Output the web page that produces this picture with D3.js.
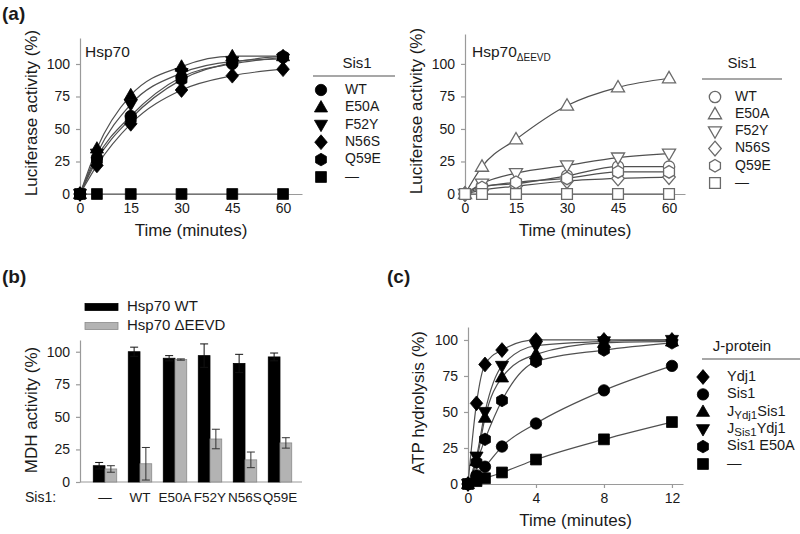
<!DOCTYPE html>
<html><head><meta charset="utf-8">
<script src="https://cdn.jsdelivr.net/npm/d3@7"></script>
<style>
body{margin:0;background:#fff}
text{font-family:"Liberation Sans",Arial,sans-serif;fill:#1a1a1a}
</style>
</head><body>
<svg id="chart" width="800" height="534"></svg>
<script>
// ---------- DATA ----------
const timesA = [0, 5, 15, 30, 45, 60];
const sis1Variants = ["WT", "E50A", "F52Y", "N56S", "Q59E", "—"];
const sis1Markers = ["circle", "triUp", "triDown", "diamond", "hexagon", "square"];
// Luciferase activity with Hsp70 WT
const lucHsp70WT = [0, 28, 60, 90, 100, 105];
const lucHsp70E50A = [0, 35, 76, 98, 106, 106];
const lucHsp70F52Y = [0, 31, 69, 93, 102, 104];
const lucHsp70N56S = [0, 22, 54, 80, 91, 96];
const lucHsp70Q59E = [0, 26, 58, 88, 101, 106];
const lucHsp70None = [0, 0, 0, 0, 0, 0];
// Luciferase activity with Hsp70 ΔEEVD
const lucDeltaWT = [0, 6, 8, 14, 21, 21];
const lucDeltaE50A = [0, 21, 42, 68, 82, 89];
const lucDeltaF52Y = [0, 8, 16, 22, 28, 31];
const lucDeltaN56S = [0, 3, 6, 10, 12, 13];
const lucDeltaQ59E = [0, 5, 9, 12, 17, 17];
const lucDeltaNone = [0, 0, 0, 0, 0, 0];
const xTicksA = [0, 15, 30, 45, 60];
const yTicksPct = [0, 25, 50, 75, 100];

// MDH activity (panel b)
const mdhCategories = ["—", "WT", "E50A", "F52Y", "N56S", "Q59E"];
const mdhHsp70WT = [12.5, 100, 95, 97, 91, 96];
const mdhHsp70WTErr = [2.5, 3.5, 2, 9, 7, 3];
const mdhHsp70Delta = [10, 14, 94, 33, 17, 30];
const mdhHsp70DeltaErr = [2.5, 12.5, 0.5, 7.5, 6, 4];
const mdhSeriesNames = ["Hsp70 WT", "Hsp70 ΔEEVD"];

// ATP hydrolysis (panel c)
const timesC = [0, 0.5, 1, 2, 4, 8, 12];
const jProteins = ["Ydj1", "Sis1", "JYdj1Sis1", "JSis1Ydj1", "Sis1 E50A", "—"];
const jMarkers = ["diamond", "circle", "triUp", "triDown", "hexagon", "square"];
const atpYdj1 = [0, 56, 83, 93, 100, 100, 100];
const atpSis1 = [0, 6, 12, 26, 42, 65, 82];
const atpJYdj1Sis1 = [0, 16, 46, 74, 90, 98, 99];
const atpJSis1Ydj1 = [0, 19, 50, 82, 96, 99, 100];
const atpSis1E50A = [0, 15, 31, 58, 85, 93, 98];
const atpNone = [0, 2, 4, 8, 17, 31, 43];
const xTicksC = [0, 4, 8, 12];

// ---------- HELPERS ----------
const svg = d3.select("#chart");
const LINE = "#505050", AXIS = "#9a9a9a";
const MR = 5.7;

function markerPath(type, r) {
  const p = d3.path();
  if (type === "circle") { p.arc(0, 0, r, 0, 2 * Math.PI); }
  else if (type === "triUp") { p.moveTo(0, -r * 1.2); p.lineTo(r * 1.15, r * 0.8); p.lineTo(-r * 1.15, r * 0.8); p.closePath(); }
  else if (type === "triDown") { p.moveTo(0, r * 1.2); p.lineTo(r * 1.15, -r * 0.8); p.lineTo(-r * 1.15, -r * 0.8); p.closePath(); }
  else if (type === "diamond") { p.moveTo(0, -r * 1.3); p.lineTo(r * 1.1, 0); p.lineTo(0, r * 1.3); p.lineTo(-r * 1.1, 0); p.closePath(); }
  else if (type === "hexagon") {
    for (let i = 0; i < 6; i++) {
      const a = -Math.PI / 2 + i * Math.PI / 3;
      const px = Math.cos(a) * r * 1.1, py = Math.sin(a) * r * 1.1;
      if (i === 0) p.moveTo(px, py); else p.lineTo(px, py);
    }
    p.closePath();
  }
  else if (type === "square") { p.rect(-r * 0.95, -r * 0.95, r * 1.9, r * 1.9); }
  return p.toString();
}

function styleAxis(g) {
  g.select(".domain").attr("stroke", AXIS).attr("stroke-width", 1.2);
  g.selectAll(".tick line").attr("stroke", AXIS).attr("stroke-width", 1.2);
  g.selectAll(".tick text").style("font-family", '"Liberation Sans",Arial,sans-serif')
    .style("font-size", "14px").attr("fill", "#222");
}

function addMarker(g, type, x, y, r, filled) {
  g.append("path").attr("d", markerPath(type, r))
    .attr("transform", `translate(${x},${y})`)
    .attr("fill", filled ? "#000" : "#fff")
    .attr("stroke", filled ? "#000" : "#6a6a6a")
    .attr("stroke-width", filled ? 0.8 : 1.3);
}

function linePanel(cfg) {
  const x = d3.scaleLinear().domain(cfg.xDomain).range([cfg.left, cfg.right]);
  const y = d3.scaleLinear().domain(cfg.yDomain).range([cfg.bottom, cfg.top]);
  const g = svg.append("g");
  g.append("g").attr("transform", `translate(0,${cfg.bottom})`)
    .call(d3.axisBottom(x).tickValues(cfg.xTicks).tickSize(4).tickSizeOuter(0).tickPadding(5))
    .call(styleAxis);
  g.append("g").attr("transform", `translate(${cfg.left},0)`)
    .call(d3.axisLeft(y).tickValues(yTicksPct).tickSize(4).tickSizeOuter(0).tickPadding(6))
    .call(styleAxis);
  const line = d3.line().x((d, i) => x(cfg.times[i])).y(d => y(d)).curve(d3.curveMonotoneX);
  cfg.series.forEach(s => {
    g.append("path").attr("d", line(s)).attr("fill", "none")
      .attr("stroke", LINE).attr("stroke-width", 1.2);
  });
  cfg.series.forEach((s, si) => {
    s.forEach((v, i) => addMarker(g, cfg.markers[si], x(cfg.times[i]), y(v), MR, cfg.filled));
  });
  g.append("text").attr("x", (cfg.left + cfg.right) / 2).attr("y", cfg.bottom + 42)
    .attr("text-anchor", "middle").style("font-size", "17px").text("Time (minutes)");
  g.append("text").attr("transform", `translate(${cfg.yLabelX},${(cfg.top + cfg.bottom) / 2 - 3}) rotate(-90)`)
    .attr("text-anchor", "middle").attr("dominant-baseline", "middle")
    .style("font-size", "17px").text(cfg.yLabel);
  return { x, y, g };
}

function legend(cfg) {
  const g = svg.append("g");
  g.append("text").attr("x", cfg.titleX).attr("y", cfg.titleY).attr("text-anchor", "middle")
    .attr("dominant-baseline", "middle").style("font-size", "15px").text(cfg.title);
  g.append("line").attr("x1", cfg.lineX1).attr("x2", cfg.lineX2).attr("y1", cfg.lineY).attr("y2", cfg.lineY)
    .attr("stroke", LINE).attr("stroke-width", 1.2);
  cfg.labels.forEach((lab, i) => {
    const yy = cfg.rowY0 + i * cfg.rowStep;
    addMarker(g, cfg.markers[i], cfg.markerX, yy, MR, cfg.filled);
    const t = g.append("text").attr("x", cfg.textX).attr("y", yy).attr("dominant-baseline", "middle")
      .style("font-size", cfg.fontSize + "px");
    const m = /^J(Ydj1|Sis1)(.*)$/.exec(lab);
    if (m) {
      t.append("tspan").text("J");
      t.append("tspan").attr("dy", 4).style("font-size", (cfg.fontSize - 3) + "px").text(m[1]);
      t.append("tspan").attr("dy", -4).text(m[2]);
    } else {
      t.text(lab);
    }
  });
}

// ---------- PANEL (a) LEFT ----------
linePanel({
  left: 80, right: 302, top: 38, bottom: 194,
  xDomain: [0, 65.6], yDomain: [0, 120], xTicks: xTicksA, times: timesA,
  series: [lucHsp70WT, lucHsp70E50A, lucHsp70F52Y, lucHsp70N56S, lucHsp70Q59E, lucHsp70None],
  markers: sis1Markers, filled: true,
  yLabel: "Luciferase activity (%)", yLabelX: 33
});
svg.append("text").attr("x", 85).attr("y", 53).attr("dominant-baseline", "middle")
  .style("font-size", "15.5px").text("Hsp70");
legend({
  title: "Sis1", titleX: 357, titleY: 64, lineX1: 313, lineX2: 395, lineY: 76,
  labels: sis1Variants, markers: sis1Markers, filled: true,
  markerX: 321, textX: 345, rowY0: 90, rowStep: 17.4, fontSize: 14
});

// ---------- PANEL (a) RIGHT ----------
linePanel({
  left: 465, right: 685, top: 34, bottom: 194,
  xDomain: [0, 64.7], yDomain: [0, 123], xTicks: xTicksA, times: timesA,
  series: [lucDeltaWT, lucDeltaE50A, lucDeltaF52Y, lucDeltaN56S, lucDeltaQ59E, lucDeltaNone],
  markers: sis1Markers, filled: false,
  yLabel: "Luciferase activity (%)", yLabelX: 418
});
{
  const t = svg.append("text").attr("x", 472).attr("y", 53).attr("dominant-baseline", "middle")
    .style("font-size", "15.5px");
  t.append("tspan").text("Hsp70");
  t.append("tspan").attr("dy", 5).style("font-size", "10px").text("ΔEEVD");
}
legend({
  title: "Sis1", titleX: 742, titleY: 64, lineX1: 702, lineX2: 782, lineY: 79,
  labels: sis1Variants, markers: sis1Markers, filled: false,
  markerX: 715, textX: 735, rowY0: 97, rowStep: 17.2, fontSize: 14
});

// ---------- PANEL (b) ----------
{
  const g = svg.append("g");
  const x0 = d3.scaleBand().domain(mdhCategories).range([87.5, 297.5]).paddingInner(0.33).paddingOuter(0.165);
  const x1 = d3.scaleBand().domain([0, 1]).range([0, x0.bandwidth()]);
  const y = d3.scaleLinear().domain([0, 109]).range([482, 340]);
  g.append("g").attr("transform", "translate(80,0)")
    .call(d3.axisLeft(y).tickValues(yTicksPct).tickSize(4).tickSizeOuter(0).tickPadding(6))
    .call(styleAxis);
  const xa = g.append("g").attr("transform", "translate(0,482)")
    .call(d3.axisBottom(x0).tickSize(0).tickPadding(10));
  xa.select(".domain").attr("d", "M80,0H302");
  xa.call(styleAxis);
  xa.selectAll(".tick text").style("font-size", "13.5px");
  const sets = [[mdhHsp70WT, mdhHsp70WTErr, "#000", "#000", "#111"], [mdhHsp70Delta, mdhHsp70DeltaErr, "#b3b3b3", "#8a8a8a", "#333"]];
  sets.forEach(([vals, errs, fill, stroke, ec], si) => {
    mdhCategories.forEach((c, i) => {
      const bx = x0(c) + x1(si), bw = x1.bandwidth();
      g.append("rect").attr("x", bx).attr("width", bw).attr("y", y(vals[i]))
        .attr("height", y(0) - y(vals[i])).attr("fill", fill).attr("stroke", stroke).attr("stroke-width", 0.8);
      const cx = bx + bw / 2;
      const hi = y(vals[i] + errs[i]), lo = y(vals[i] - errs[i]);
      g.append("line").attr("x1", cx).attr("x2", cx).attr("y1", hi).attr("y2", lo).attr("stroke", ec).attr("stroke-width", 1);
      [hi, lo].forEach(yy => g.append("line").attr("x1", cx - 4).attr("x2", cx + 4).attr("y1", yy).attr("y2", yy)
        .attr("stroke", ec).attr("stroke-width", 1));
    });
  });
  g.append("text").attr("x", 25).attr("y", 498).attr("dominant-baseline", "middle")
    .style("font-size", "14px").text("Sis1:");
  g.append("text").attr("transform", "translate(33,410) rotate(-90)").attr("text-anchor", "middle")
    .attr("dominant-baseline", "middle").style("font-size", "17px").text("MDH activity (%)");
  // legend
  [["#000", "#000"], ["#b3b3b3", "#8a8a8a"]].forEach(([f, s], i) => {
    const yy = 307 + i * 19;
    g.append("rect").attr("x", 85).attr("y", yy - 3.5).attr("width", 33).attr("height", 7)
      .attr("fill", f).attr("stroke", s).attr("stroke-width", 0.8);
    g.append("text").attr("x", 127).attr("y", yy).attr("dominant-baseline", "middle")
      .style("font-size", "15px").text(mdhSeriesNames[i]);
  });
}

// ---------- PANEL (c) ----------
linePanel({
  left: 468, right: 683, top: 327, bottom: 484,
  xDomain: [0, 12.65], yDomain: [0, 109], xTicks: xTicksC, times: timesC,
  series: [atpYdj1, atpSis1, atpJYdj1Sis1, atpJSis1Ydj1, atpSis1E50A, atpNone],
  markers: jMarkers, filled: true,
  yLabel: "ATP hydrolysis (%)", yLabelX: 420
});
legend({
  title: "J-protein", titleX: 742, titleY: 347, lineX1: 702, lineX2: 800, lineY: 359,
  labels: jProteins, markers: jMarkers, filled: true,
  markerX: 703, textX: 727, rowY0: 377, rowStep: 17.4, fontSize: 14.5
});

// ---------- PANEL LABELS ----------
[["(a)", 2, 15], ["(b)", 2, 278], ["(c)", 387, 278]].forEach(([t, x, yy]) => {
  svg.append("text").attr("x", x).attr("y", yy).attr("dominant-baseline", "middle")
    .style("font-size", "19px").style("font-weight", "bold").text(t);
});
</script>
</body></html>
